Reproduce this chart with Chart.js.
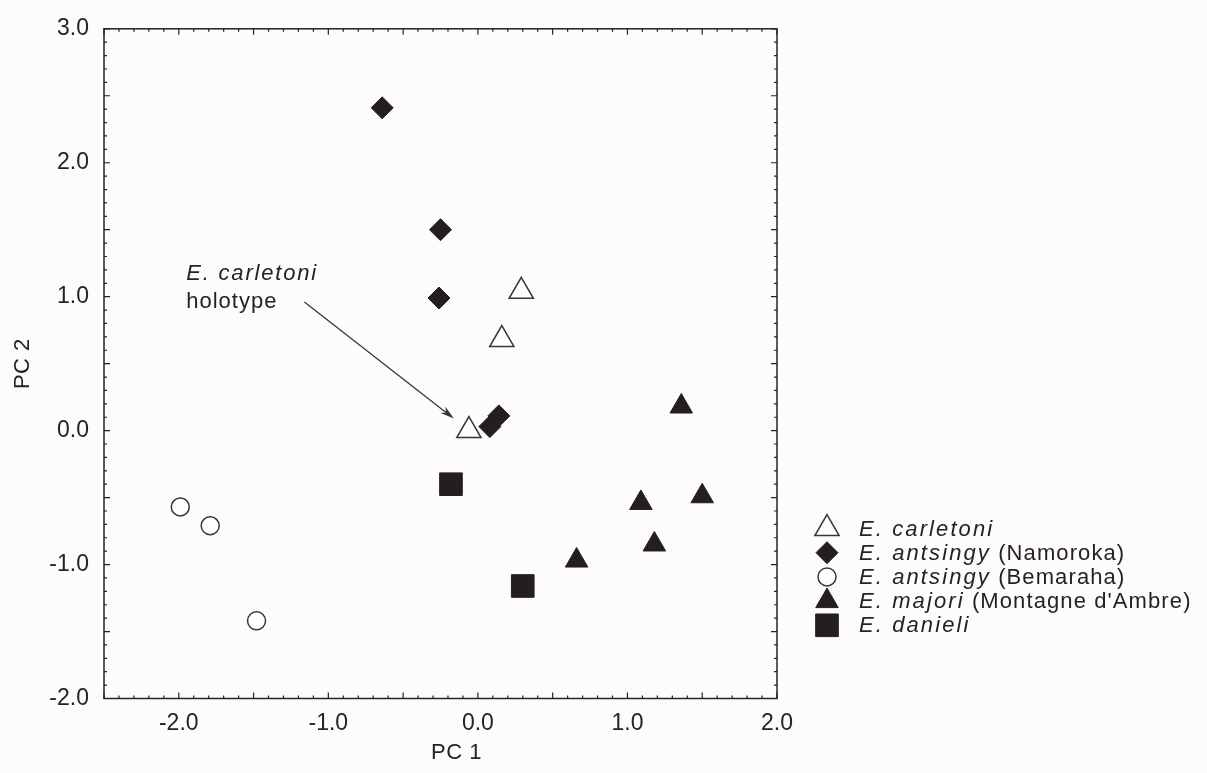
<!DOCTYPE html>
<html><head><meta charset="utf-8">
<script src="https://cdn.jsdelivr.net/npm/chart.js@4.4.1/dist/chart.umd.min.js"></script>
<style>html,body{margin:0;padding:0;background:#fdfcfa;} #wrap{position:relative;width:1207px;height:773px;}</style>
</head><body><div id="wrap"><canvas id="c" width="1207" height="773"></canvas></div>
<script>
// ---- data ----
const seriesNames = ['E. carletoni', 'E. antsingy (Namoroka)', 'E. antsingy (Bemaraha)', "E. majori (Montagne d'Ambre)", 'E. danieli'];
const legendItalic = ['E. carletoni', 'E. antsingy', 'E. antsingy', 'E. majori', 'E. danieli'];
const legendPlain = ['', ' (Namoroka)', ' (Bemaraha)', " (Montagne d'Ambre)", ''];
const carletoniX = [0.29, 0.16, -0.06];
const carletoniY = [1.04, 0.68, 0.00];
const namorokaX = [-0.64, -0.25, -0.26, 0.14, 0.08];
const namorokaY = [2.41, 1.50, 0.99, 0.11, 0.03];
const bemarahaX = [-1.99, -1.79, -1.48];
const bemarahaY = [-0.57, -0.71, -1.42];
const majoriX = [1.36, 1.09, 1.50, 1.18, 0.66];
const majoriY = [0.18, -0.54, -0.49, -0.85, -0.97];
const danieliX = [-0.18, 0.30];
const danieliY = [-0.40, -1.16];
const xTicks = [-2.0, -1.0, 0.0, 1.0, 2.0];
const yTicks = [-2.0, -1.0, 0.0, 1.0, 2.0, 3.0];
const xTitle = 'PC 1';
const yTitle = 'PC 2';
const noteLines = ['E. carletoni', 'holotype'];
const noteAnchor = [-1.95, 1.17];
const arrowFrom = [-1.16, 0.96];
const arrowTo = [-0.16, 0.09];

// ---- style ----
const ink = '#231f20';
const line = '#3a3536';
const textCol = '#262223';
const FONT = '"Liberation Sans", Arial, Helvetica, sans-serif';
const pts = (xs, ys) => xs.map((x, i) => ({x: x, y: ys[i]}));

const datasets = [
  {label: seriesNames[0], data: pts(carletoniX, carletoniY), pointStyle: 'triangle', pointRadius: 14, backgroundColor: '#ffffff', borderColor: line, borderWidth: 1.5},
  {label: seriesNames[1], data: pts(namorokaX, namorokaY), pointStyle: 'rectRot', pointRadius: 11, backgroundColor: ink, borderColor: ink, borderWidth: 1},
  {label: seriesNames[2], data: pts(bemarahaX, bemarahaY), pointStyle: 'circle', pointRadius: 9, backgroundColor: '#ffffff', borderColor: line, borderWidth: 1.5},
  {label: seriesNames[3], data: pts(majoriX, majoriY), pointStyle: 'triangle', pointRadius: 13, backgroundColor: ink, borderColor: ink, borderWidth: 1},
  {label: seriesNames[4], data: pts(danieliX, danieliY), pointStyle: 'rect', pointRadius: 16, backgroundColor: ink, borderColor: ink, borderWidth: 1}
];

function drawMarker(ctx, ds, x, y) {
  ctx.save();
  ctx.fillStyle = ds.backgroundColor;
  ctx.strokeStyle = ds.borderColor;
  ctx.lineWidth = ds.borderWidth;
  Chart.helpers.drawPoint(ctx, {pointStyle: ds.pointStyle, radius: ds.pointRadius, rotation: 0, borderWidth: ds.borderWidth}, x, y);
  ctx.restore();
}

const framePlugin = {
  id: 'frame',
  beforeDatasetsDraw(chart) {
    const ctx = chart.ctx, a = chart.chartArea, xs = chart.scales.x, ys = chart.scales.y;
    ctx.save();
    ctx.strokeStyle = textCol;
    ctx.lineWidth = 1.5;
    ctx.strokeRect(a.left, a.top, a.right - a.left, a.bottom - a.top);
    ctx.lineWidth = 1.2;
    ctx.beginPath();
    for (let i = Math.round(xs.min * 10); i <= Math.round(xs.max * 10); i++) {
      const px = xs.getPixelForValue(i / 10);
      const len = (i % 5 === 0) ? 6 : 3;
      ctx.moveTo(px, a.bottom); ctx.lineTo(px, a.bottom - len);
      ctx.moveTo(px, a.top); ctx.lineTo(px, a.top + len);
    }
    for (let i = Math.round(ys.min * 10); i <= Math.round(ys.max * 10); i++) {
      const py = ys.getPixelForValue(i / 10);
      const len = (i % 5 === 0) ? 6 : 3;
      ctx.moveTo(a.left, py); ctx.lineTo(a.left + len, py);
      ctx.moveTo(a.right, py); ctx.lineTo(a.right - len, py);
    }
    ctx.stroke();
    ctx.restore();
  },
  afterDraw(chart) {
    const ctx = chart.ctx, xs = chart.scales.x, ys = chart.scales.y;
    ctx.save();
    // axis titles
    ctx.fillStyle = textCol;
    ctx.font = '22px ' + FONT;
    ctx.letterSpacing = '0.5px';
    ctx.textAlign = 'center';
    ctx.textBaseline = 'middle';
    ctx.fillText(xTitle, (xs.left + xs.right) / 2 + 16, 753);
    ctx.save();
    ctx.translate(23, (ys.top + ys.bottom) / 2);
    ctx.rotate(-Math.PI / 2);
    ctx.fillText(yTitle, 0, 0);
    ctx.restore();

    // annotation
    const nx = xs.getPixelForValue(noteAnchor[0]);
    const ny = ys.getPixelForValue(noteAnchor[1]);
    ctx.textAlign = 'left';
    ctx.font = 'italic 22px ' + FONT;
    ctx.letterSpacing = '1.8px';
    ctx.fillText(noteLines[0], nx, ny);
    ctx.letterSpacing = '1px';
    ctx.font = '22px ' + FONT;
    ctx.fillText(noteLines[1], nx, ny + 28);
    ctx.letterSpacing = '0px';

    // arrow
    const x1 = xs.getPixelForValue(arrowFrom[0]), y1 = ys.getPixelForValue(arrowFrom[1]);
    const x2 = xs.getPixelForValue(arrowTo[0]), y2 = ys.getPixelForValue(arrowTo[1]);
    const ang = Math.atan2(y2 - y1, x2 - x1);
    ctx.strokeStyle = line;
    ctx.fillStyle = line;
    ctx.lineWidth = 1.3;
    ctx.beginPath(); ctx.moveTo(x1, y1); ctx.lineTo(x2 - 8 * Math.cos(ang), y2 - 8 * Math.sin(ang)); ctx.stroke();
    ctx.beginPath();
    ctx.moveTo(x2, y2);
    ctx.lineTo(x2 - 14 * Math.cos(ang) + 4 * Math.sin(ang), y2 - 14 * Math.sin(ang) - 4 * Math.cos(ang));
    ctx.lineTo(x2 - 10 * Math.cos(ang), y2 - 10 * Math.sin(ang));
    ctx.lineTo(x2 - 14 * Math.cos(ang) - 4 * Math.sin(ang), y2 - 14 * Math.sin(ang) + 4 * Math.cos(ang));
    ctx.closePath(); ctx.fill();

    // legend
    const mx = 827, tx = 859, y0 = 528.5, gap = 24.2;
    chart.data.datasets.forEach((ds, i) => {
      const y = y0 + i * gap;
      drawMarker(ctx, ds, mx, y);
      ctx.fillStyle = textCol;
      ctx.textAlign = 'left';
      ctx.textBaseline = 'middle';
      ctx.font = 'italic 22px ' + FONT;
      ctx.letterSpacing = '2.1px';
      ctx.fillText(legendItalic[i], tx, y + 1);
      const w = ctx.measureText(legendItalic[i]).width;
      ctx.letterSpacing = '1.1px';
      ctx.font = '22px ' + FONT;
      if (legendPlain[i]) ctx.fillText(legendPlain[i], tx + w, y + 1);
      ctx.letterSpacing = '0px';
    });
    ctx.restore();
  }
};

new Chart(document.getElementById('c'), {
  type: 'scatter',
  data: {datasets: datasets},
  options: {
    responsive: false,
    animation: false,
    events: [],
    layout: {padding: {left: 0, top: 20.5, right: 430, bottom: 0}},
    plugins: {legend: {display: false}, tooltip: {enabled: false}},
    scales: {
      x: {
        type: 'linear', min: -2.5, max: 2.0,
        grid: {display: false, drawTicks: false},
        border: {display: false},
        afterBuildTicks: s => { s.ticks = xTicks.map(v => ({value: v})); },
        afterFit: s => { s.height = 74.5; },
        ticks: {padding: 11, color: textCol, autoSkip: false, maxRotation: 0,
          font: {family: FONT, size: 23}, callback: v => Number(v).toFixed(1)}
      },
      y: {
        type: 'linear', min: -2, max: 3,
        grid: {display: false, drawTicks: false},
        border: {display: false},
        afterBuildTicks: s => { s.ticks = yTicks.map(v => ({value: v})); },
        afterFit: s => { s.width = 104; },
        ticks: {padding: 15, color: textCol, autoSkip: false,
          font: {family: FONT, size: 23}, callback: v => Number(v).toFixed(1)}
      }
    }
  },
  plugins: [framePlugin]
});
</script>
</body></html>
